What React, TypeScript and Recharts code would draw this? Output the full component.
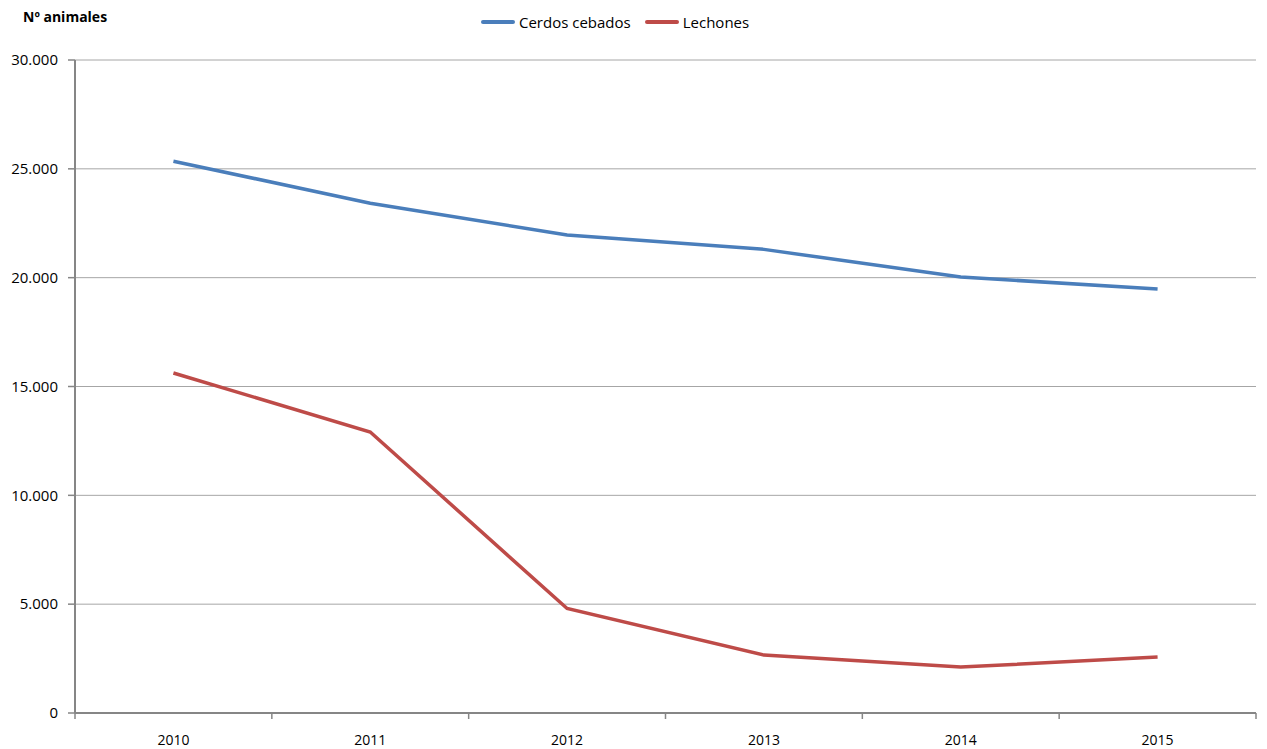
import { CartesianGrid, Line, LineChart, XAxis, YAxis } from "recharts";

const years = ["2010", "2011", "2012", "2013", "2014", "2015"];
const cerdosCebados = [25350, 23420, 21960, 21300, 20030, 19480];
const lechones = [15620, 12910, 4800, 2660, 2110, 2570];
const yTicks = [0, 5000, 10000, 15000, 20000, 25000, 30000];

const series = [
  { key: "cerdos", name: "Cerdos cebados", color: "#4a7ebb" },
  { key: "lechones", name: "Lechones", color: "#be4b48" }
];

const data = years.map((year, i) => ({
  year,
  cerdos: cerdosCebados[i],
  lechones: lechones[i]
}));

const WIDTH = 1267;
const HEIGHT = 749;
const PLOT_LEFT = 75;
const PLOT_RIGHT = 1256;
const PLOT_BOTTOM = 713;
const BAND = (PLOT_RIGHT - PLOT_LEFT) / years.length;
const FONT = "'Open Sans', 'Noto Sans', sans-serif";

function formatThousands(value: number) {
  return String(value).replace(/\B(?=(\d{3})+(?!\d))/g, ".");
}

type TickProps = {
  x?: number;
  y?: number;
  index?: number;
  payload?: { value: string };
};

// x labels centred in each band, tick marks on the band edges
function YearTick({ x = 0, index = 0, payload }: TickProps) {
  const half = BAND / 2;
  const isLast = index === years.length - 1;
  return (
    <g>
      <line x1={x - half} x2={x - half} y1={PLOT_BOTTOM} y2={PLOT_BOTTOM + 6} stroke="#868686" strokeWidth={1.5} />
      {isLast && (
        <line x1={x + half} x2={x + half} y1={PLOT_BOTTOM} y2={PLOT_BOTTOM + 6} stroke="#868686" strokeWidth={1.5} />
      )}
      <text x={x} y={PLOT_BOTTOM + 32} textAnchor="middle" fill="#000" fontSize={14} fontFamily={FONT}>
        {payload?.value}
      </text>
    </g>
  );
}

export default function App() {
  return (
    <div
      style={{
        position: "fixed",
        top: 0,
        left: 0,
        width: WIDTH,
        height: HEIGHT,
        background: "#fff",
        fontFamily: FONT
      }}
    >
      <div
        style={{
          position: "absolute",
          left: 23,
          top: 7,
          fontSize: 14,
          fontWeight: 700,
          color: "#000"
        }}
      >
        Nº animales
      </div>
      <div
        style={{
          position: "absolute",
          top: 11,
          left: 481,
          display: "flex",
          alignItems: "center",
          fontSize: 15,
          color: "#000",
          lineHeight: "22px"
        }}
      >
        {series.map((s, i) => (
          <div key={s.key} style={{ display: "flex", alignItems: "center", marginRight: i === 0 ? 14 : 0 }}>
            <span
              style={{
                display: "inline-block",
                width: 34,
                height: 4,
                borderRadius: 2,
                background: s.color,
                marginRight: 4
              }}
            />
            <span>{s.name}</span>
          </div>
        ))}
      </div>
      <LineChart
        width={WIDTH}
        height={HEIGHT}
        data={data}
        margin={{ top: 60, right: WIDTH - PLOT_RIGHT, bottom: 0, left: 0 }}
      >
        <CartesianGrid stroke="#a6a6a6" strokeWidth={1} vertical={false} />
        <XAxis
          dataKey="year"
          scale="band"
          height={HEIGHT - PLOT_BOTTOM}
          axisLine={{ stroke: "#868686", strokeWidth: 2 }}
          tickLine={false}
          tick={<YearTick />}
          interval={0}
        />
        <YAxis
          width={PLOT_LEFT}
          domain={[0, 30000]}
          ticks={yTicks}
          interval={0}
          tickFormatter={(v: number) => formatThousands(v)}
          axisLine={{ stroke: "#868686", strokeWidth: 2 }}
          tickLine={{ stroke: "#868686", strokeWidth: 1.5 }}
          tickSize={7}
          tickMargin={10}
          tick={{ fill: "#000", fontSize: 15, fontFamily: FONT }}
        />
        {series.map((s) => (
          <Line
            key={s.key}
            dataKey={s.key}
            name={s.name}
            stroke={s.color}
            strokeWidth={3.5}
            type="linear"
            dot={false}
            activeDot={false}
            isAnimationActive={false}
          />
        ))}
      </LineChart>
    </div>
  );
}
